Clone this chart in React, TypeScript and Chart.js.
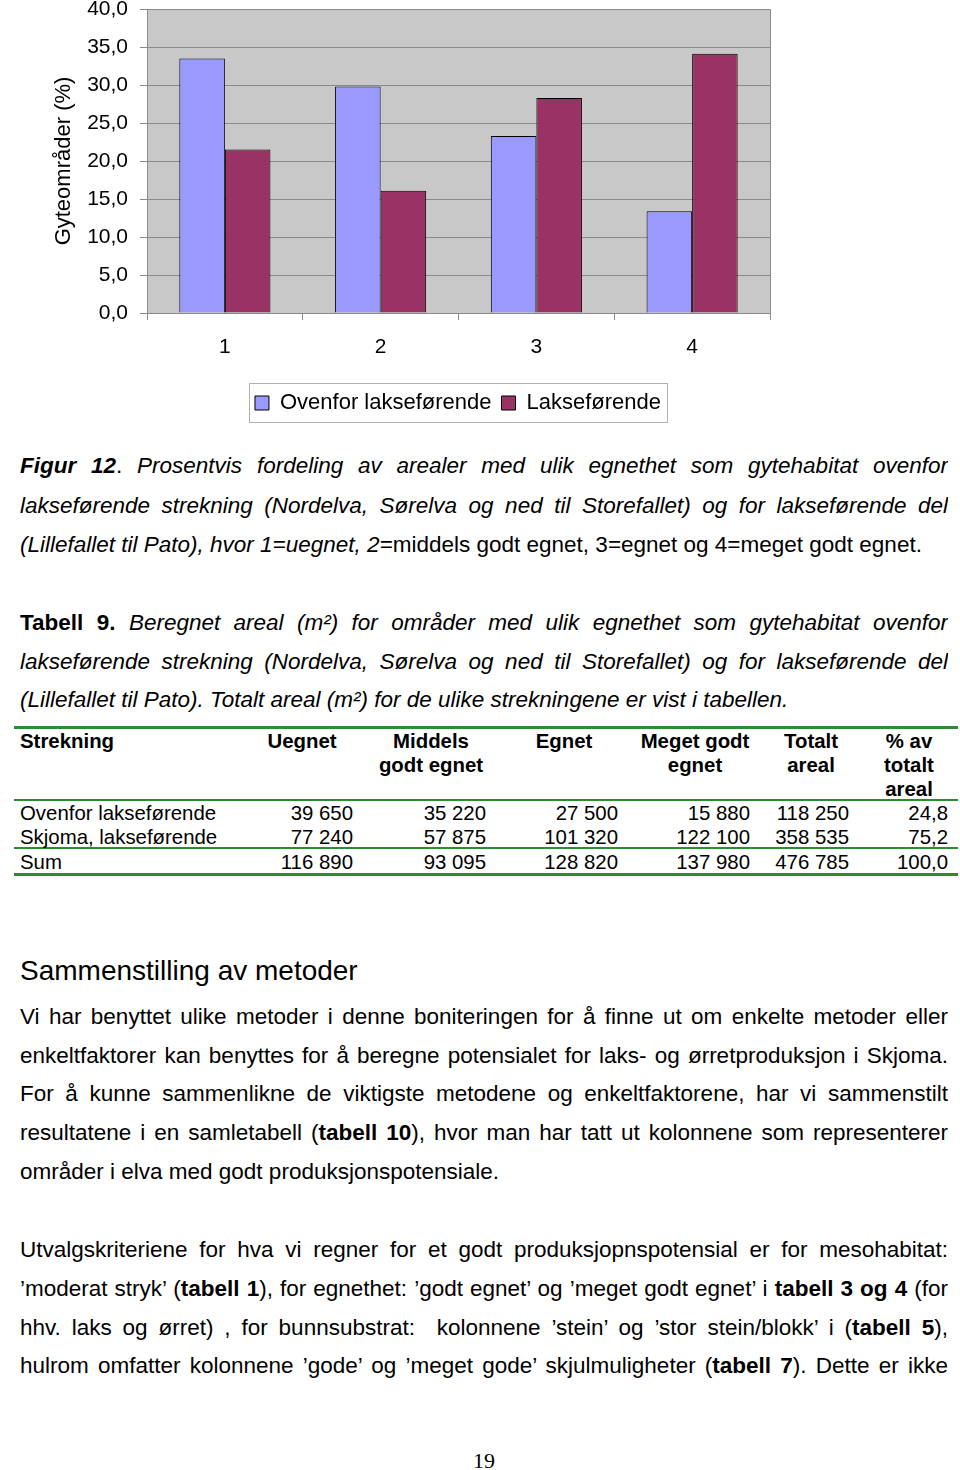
import React, { useEffect, useRef } from 'react';
import { Chart, registerables } from 'chart.js';

Chart.register(...registerables);

// ---- Chart data ----
const categories = ['1', '2', '3', '4'];
const seriesLabels = ['Ovenfor lakseførende', 'Lakseførende'];
const ovenforValues = [33.5, 29.8, 23.3, 13.4];
const lakseforendeValues = [21.5, 16.1, 28.3, 34.1];
const yTickLabels = ['0,0', '5,0', '10,0', '15,0', '20,0', '25,0', '30,0', '35,0', '40,0'];
const yAxisTitle = 'Gyteområder (%)';

// ---- Table data ----
const tableHeaders = [
  ['Uegnet'],
  ['Middels', 'godt egnet'],
  ['Egnet'],
  ['Meget godt', 'egnet'],
  ['Totalt', 'areal'],
  ['% av', 'totalt', 'areal'],
];
const tableRows = [
  ['Ovenfor lakseførende', '39 650', '35 220', '27 500', '15 880', '118 250', '24,8'],
  ['Skjoma, lakseførende', '77 240', '57 875', '101 320', '122 100', '358 535', '75,2'],
  ['Sum', '116 890', '93 095', '128 820', '137 980', '476 785', '100,0'],
];

const FONT = "'Liberation Sans', Arial, Helvetica, sans-serif";
const GREEN = '#2e8b2e';
const BODY_SIZE = 22.5;
const TABLE_SIZE = 20.4;

const framePlugin = {
  id: 'plotFrame',
  beforeDraw(chart: any) {
    const { ctx, chartArea } = chart;
    const { left, top, right, bottom } = chartArea;
    ctx.save();
    ctx.fillStyle = '#c8c8c8';
    ctx.fillRect(left, top, right - left, bottom - top);
    ctx.restore();
  },
  afterDraw(chart: any) {
    const { ctx, chartArea } = chart;
    const { left, top, right, bottom } = chartArea;
    ctx.save();
    ctx.strokeStyle = '#8a8a8a';
    ctx.lineWidth = 1;
    ctx.beginPath();
    ctx.moveTo(Math.round(left), Math.round(top) + 0.5);
    ctx.lineTo(Math.round(right) + 0.5, Math.round(top) + 0.5);
    ctx.lineTo(Math.round(right) + 0.5, Math.round(bottom));
    ctx.stroke();
    const boxes = chart.legend && chart.legend.legendHitBoxes;
    if (boxes && boxes.length) {
      const l = Math.min(...boxes.map((b: any) => b.left)) - 6;
      const r = Math.max(...boxes.map((b: any) => b.left + b.width)) + 6;
      const t = Math.min(...boxes.map((b: any) => b.top)) - 9;
      const bt = Math.max(...boxes.map((b: any) => b.top + b.height)) + 8;
      ctx.strokeStyle = '#b0b0b0';
      ctx.strokeRect(Math.round(l) + 0.5, Math.round(t) + 0.5, Math.round(r - l), Math.round(bt - t));
    }
    ctx.restore();
  },
};

function BarChart() {
  const ref = useRef<HTMLCanvasElement | null>(null);
  useEffect(() => {
    if (!ref.current) return;
    const tickFont = { family: FONT, size: 21 };
    const chart = new Chart(ref.current, {
      type: 'bar',
      data: {
        labels: categories,
        datasets: [
          {
            label: seriesLabels[0],
            data: ovenforValues,
            backgroundColor: '#9999ff',
            borderColor: '#000000',
            borderWidth: 1,
            categoryPercentage: 0.585,
            barPercentage: 1,
          },
          {
            label: seriesLabels[1],
            data: lakseforendeValues,
            backgroundColor: '#993366',
            borderColor: '#000000',
            borderWidth: 1,
            categoryPercentage: 0.585,
            barPercentage: 1,
          },
        ],
      },
      options: {
        responsive: false,
        animation: false,
        devicePixelRatio: 1,
        layout: { padding: { left: 0, right: 44, top: 9, bottom: 0 } },
        plugins: {
          legend: {
            position: 'bottom',
            labels: {
              font: { family: FONT, size: 22 },
              color: '#000000',
              boxWidth: 14,
              boxHeight: 14,
              padding: 10,
            },
          },
          tooltip: { enabled: false },
        },
        scales: {
          x: {
            type: 'category',
            grid: {
              offset: true,
              drawOnChartArea: false,
              drawTicks: true,
              tickLength: 7,
              color: '#8a8a8a',
            },
            border: { color: '#8a8a8a' },
            ticks: { font: tickFont, color: '#000000', padding: 15 },
            afterFit: (s: any) => {
              s.height = 69;
              s.paddingLeft = 0;
              s.paddingRight = 0;
            },
          },
          y: {
            min: 0,
            max: 40,
            ticks: {
              stepSize: 5,
              callback: (_v: any, i: number) => yTickLabels[i],
              font: tickFont,
              color: '#000000',
              padding: 12,
            },
            grid: { color: '#8a8a8a', tickLength: 7 },
            border: { color: '#8a8a8a' },
            title: {
              display: true,
              text: yAxisTitle,
              font: { family: FONT, size: 22 },
              color: '#000000',
              padding: { top: 51, bottom: 0 },
            },
            afterFit: (s: any) => {
              s.width = 147;
              s.paddingTop = 0;
              s.paddingBottom = 0;
            },
          },
          y2: {
            type: 'linear',
            position: 'right',
            display: true,
            grid: { display: false },
            ticks: { display: false },
            border: { display: false },
            afterFit: (s: any) => {
              s.width = 146;
              s.paddingTop = 0;
              s.paddingBottom = 0;
            },
          },
        },
      } as any,
      plugins: [framePlugin],
    });
    return () => chart.destroy();
  }, []);
  return (
    <canvas
      ref={ref}
      width={960}
      height={424}
      style={{ position: 'absolute', left: 0, top: 0, width: 960, height: 424 }}
    />
  );
}

function Line({
  y,
  justify = false,
  size = BODY_SIZE,
  children,
}: {
  y: number;
  justify?: boolean;
  size?: number;
  children: React.ReactNode;
}) {
  return (
    <div
      style={{
        position: 'absolute',
        left: 20,
        width: 928,
        top: y - 15,
        height: 30,
        lineHeight: '30px',
        fontSize: size,
        color: '#000',
        textAlign: justify ? 'justify' : 'left',
        textAlignLast: justify ? 'justify' : 'left',
        whiteSpace: 'normal',
        overflow: 'hidden',
      } as any}
    >
      {children}
    </div>
  );
}

const headerCenters = [302, 431, 564, 695, 811, 909];
const numberRights = [353, 486, 618, 750, 849, 948];
const rowCenters = [813, 837, 862];

function DataTable() {
  const rule = (top: number, h: number) => (
    <div style={{ position: 'absolute', left: 14, width: 944, top, height: h, background: GREEN }} />
  );
  return (
    <>
      {rule(726, 3)}
      {rule(799, 2)}
      {rule(847, 2)}
      {rule(873, 3)}
      <div
        style={{
          position: 'absolute',
          left: 20,
          top: 741 - 12,
          fontSize: TABLE_SIZE,
          lineHeight: '24px',
          fontWeight: 'bold',
          whiteSpace: 'nowrap',
        }}
      >
        Strekning
      </div>
      {tableHeaders.map((h, i) => (
        <div
          key={'h' + i}
          style={{
            position: 'absolute',
            left: headerCenters[i] - 100,
            width: 200,
            top: 741 - 12,
            fontSize: TABLE_SIZE,
            lineHeight: '24px',
            fontWeight: 'bold',
            textAlign: 'center',
            whiteSpace: 'nowrap',
          }}
        >
          {h.map((t, j) => (
            <div key={j}>{t}</div>
          ))}
        </div>
      ))}
      {tableRows.map((row, r) => (
        <React.Fragment key={'r' + r}>
          <div
            style={{
              position: 'absolute',
              left: 20,
              top: rowCenters[r] - 12,
              fontSize: TABLE_SIZE,
              lineHeight: '24px',
              whiteSpace: 'nowrap',
            }}
          >
            {row[0]}
          </div>
          {row.slice(1).map((v, c) => (
            <div
              key={c}
              style={{
                position: 'absolute',
                left: numberRights[c] - 150,
                width: 150,
                top: rowCenters[r] - 12,
                fontSize: TABLE_SIZE,
                lineHeight: '24px',
                textAlign: 'right',
                whiteSpace: 'nowrap',
              }}
            >
              {v}
            </div>
          ))}
        </React.Fragment>
      ))}
    </>
  );
}

export default function App() {
  return (
    <div
      style={{
        position: 'absolute',
        left: 0,
        top: 0,
        width: 960,
        height: 1470,
        background: '#ffffff',
        fontFamily: FONT,
        color: '#000',
        overflow: 'hidden',
      }}
    >
      <BarChart />

      <Line y={466} justify>
        <b>
          <i>Figur 12</i>
        </b>
        . <i>Prosentvis fordeling av arealer med ulik egnethet som gytehabitat ovenfor</i>
      </Line>
      <Line y={506} justify>
        <i>lakseførende strekning (Nordelva, Sørelva og ned til Storefallet) og for lakseførende del</i>
      </Line>
      <Line y={545}>
        <i>(Lillefallet til Pato), hvor 1=uegnet, 2=</i>middels godt egnet, 3=egnet og 4=meget godt egnet.
      </Line>

      <Line y={623} justify>
        <b>Tabell 9.</b> <i>Beregnet areal (m²) for områder med ulik egnethet som gytehabitat ovenfor</i>
      </Line>
      <Line y={662} justify>
        <i>lakseførende strekning (Nordelva, Sørelva og ned til Storefallet) og for lakseførende del</i>
      </Line>
      <Line y={700}>
        <i>(Lillefallet til Pato). Totalt areal (m²) for de ulike strekningene er vist i tabellen.</i>
      </Line>

      <DataTable />

      <div
        style={{
          position: 'absolute',
          left: 20,
          top: 971 - 20,
          fontSize: 28,
          lineHeight: '40px',
          whiteSpace: 'nowrap',
        }}
      >
        Sammenstilling av metoder
      </div>

      <Line y={1017} justify>
        Vi har benyttet ulike metoder i denne boniteringen for å finne ut om enkelte metoder eller
      </Line>
      <Line y={1056} justify>
        enkeltfaktorer kan benyttes for å beregne potensialet for laks- og ørretproduksjon i Skjoma.
      </Line>
      <Line y={1094} justify>
        For å kunne sammenlikne de viktigste metodene og enkeltfaktorene, har vi sammenstilt
      </Line>
      <Line y={1133} justify>
        resultatene i en samletabell (<b>tabell 10</b>), hvor man har tatt ut kolonnene som representerer
      </Line>
      <Line y={1172}>områder i elva med godt produksjonspotensiale.</Line>

      <Line y={1250} justify>
        Utvalgskriteriene for hva vi regner for et godt produksjopnspotensial er for mesohabitat:
      </Line>
      <Line y={1289} justify>
        ’moderat stryk’ (<b>tabell 1</b>), for egnethet: ’godt egnet’ og ’meget godt egnet’ i{' '}
        <b>tabell 3 og 4</b> (for
      </Line>
      <Line y={1328} justify>
        hhv. laks og ørret) , for bunnsubstrat: &nbsp;kolonnene ’stein’ og ’stor stein/blokk’ i (
        <b>tabell 5</b>),
      </Line>
      <Line y={1366} justify>
        hulrom omfatter kolonnene ’gode’ og ’meget gode’ skjulmuligheter (<b>tabell 7</b>). Dette er ikke
      </Line>

      <div
        style={{
          position: 'absolute',
          left: 434,
          width: 100,
          top: 1461 - 15,
          fontSize: 22,
          lineHeight: '30px',
          textAlign: 'center',
          fontFamily: "'Liberation Serif', 'Times New Roman', serif",
        }}
      >
        19
      </div>
    </div>
  );
}
